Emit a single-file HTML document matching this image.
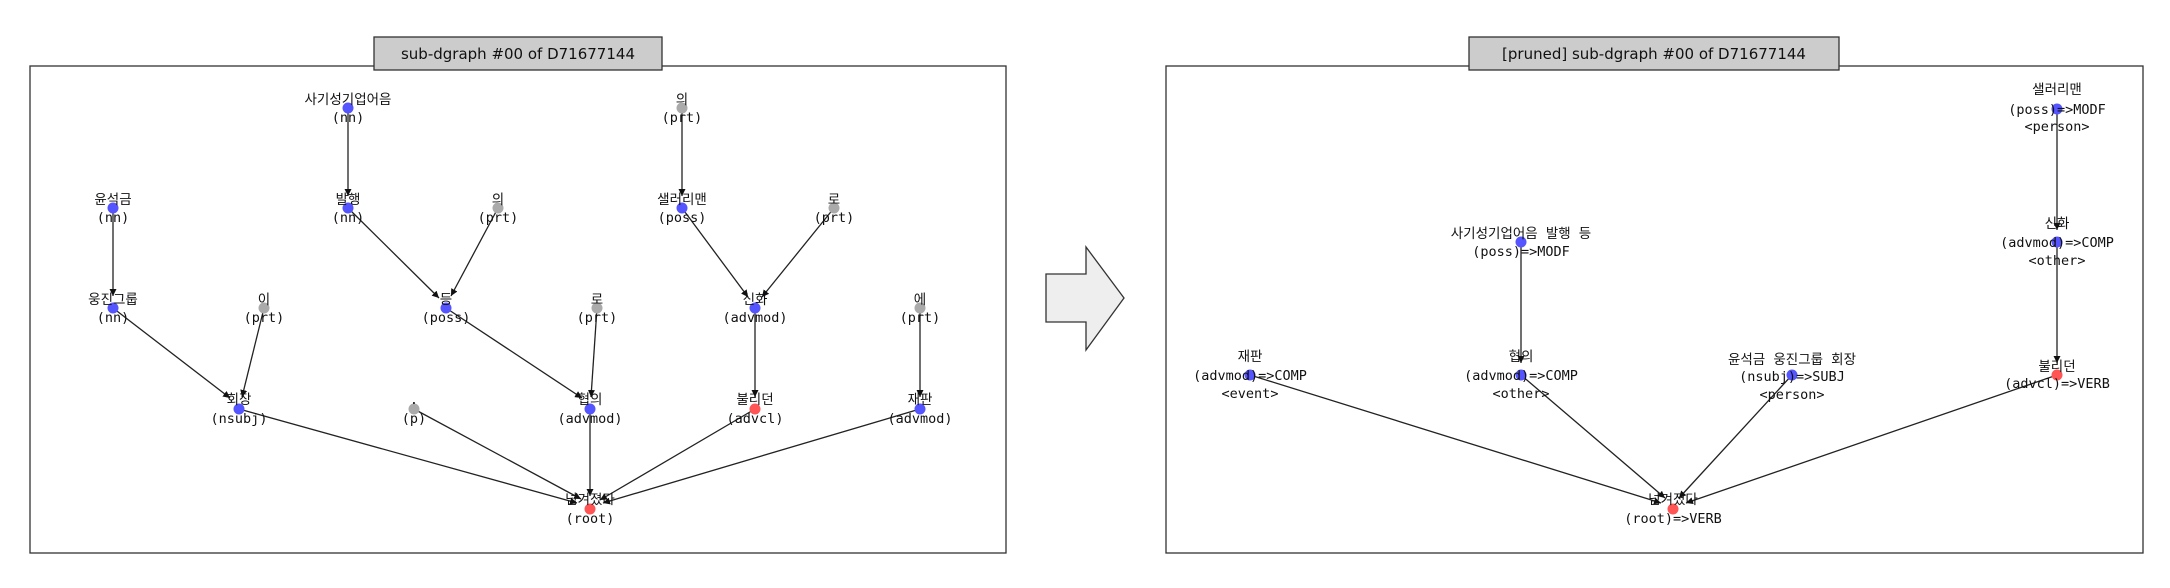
<!DOCTYPE html>
<html><head><meta charset="utf-8"><style>
html,body{margin:0;padding:0;background:#fff;}
svg{display:block;}
text{font-family:"DejaVu Sans Mono","Liberation Mono","Noto Sans CJK KR",monospace;font-size:13.5px;fill:#111;text-anchor:middle;dominant-baseline:central;}
.t{font-family:"DejaVu Sans","Liberation Sans",sans-serif;font-size:15px;}
line{stroke:#222;stroke-width:1.3;}
</style></head><body>
<svg width="2170" height="588" viewBox="0 0 2170 588" xmlns="http://www.w3.org/2000/svg">
<defs><marker id="a" viewBox="0 0 10 10" refX="10" refY="5" markerWidth="7" markerHeight="7" orient="auto" markerUnits="userSpaceOnUse"><path d="M0,0L10,5L0,10z" fill="#111"/></marker></defs>
<rect x="30" y="66" width="976" height="487" fill="none" stroke="#333" stroke-width="1.3"/>
<rect x="374" y="37" width="288" height="33" fill="#ccc" stroke="#333" stroke-width="1.3"/>
<text class="t" x="518" y="54">sub-dgraph #00 of D71677144</text>
<rect x="1166" y="66" width="977" height="487" fill="none" stroke="#333" stroke-width="1.3"/>
<rect x="1469" y="37" width="370" height="33" fill="#ccc" stroke="#333" stroke-width="1.3"/>
<text class="t" x="1654" y="54">[pruned] sub-dgraph #00 of D71677144</text>
<path d="M1046,274 H1086 V247 L1124,298 L1086,350 V322 H1046 Z" fill="#eee" stroke="#333" stroke-width="1.3"/>
<g id="edges" marker-end="url(#a)">
<line x1="348" y1="108" x2="348" y2="196"/>
<line x1="682" y1="108" x2="682" y2="196"/>
<line x1="113" y1="208" x2="113" y2="296"/>
<line x1="348" y1="208" x2="439" y2="298"/>
<line x1="498" y1="208" x2="451" y2="296"/>
<line x1="682" y1="208" x2="748" y2="297"/>
<line x1="834" y1="208" x2="762" y2="297"/>
<line x1="113" y1="308" x2="230" y2="398"/>
<line x1="264" y1="308" x2="242" y2="397"/>
<line x1="446" y1="308" x2="582" y2="398"/>
<line x1="597" y1="308" x2="591" y2="397"/>
<line x1="755" y1="308" x2="755" y2="397"/>
<line x1="920" y1="308" x2="920" y2="397"/>
<line x1="239" y1="409" x2="577" y2="503"/>
<line x1="414" y1="409" x2="581" y2="499"/>
<line x1="590" y1="409" x2="590" y2="496"/>
<line x1="755" y1="409" x2="600" y2="500"/>
<line x1="920" y1="409" x2="603" y2="503"/>
<line x1="2057" y1="109" x2="2057" y2="230"/>
<line x1="2057" y1="242" x2="2057" y2="363"/>
<line x1="1521" y1="242" x2="1521" y2="363"/>
<line x1="1250" y1="375" x2="1661" y2="503"/>
<line x1="1521" y1="375" x2="1665" y2="498"/>
<line x1="1792" y1="375" x2="1679" y2="498"/>
<line x1="2057" y1="375" x2="1686" y2="503"/>
</g>
<g id="dots">
<circle cx="348" cy="108" r="5.5" fill="#5555ff"/>
<circle cx="682" cy="108" r="5.5" fill="#aaa"/>
<circle cx="113" cy="208" r="5.5" fill="#5555ff"/>
<circle cx="348" cy="208" r="5.5" fill="#5555ff"/>
<circle cx="498" cy="208" r="5.5" fill="#aaa"/>
<circle cx="682" cy="208" r="5.5" fill="#5555ff"/>
<circle cx="834" cy="208" r="5.5" fill="#aaa"/>
<circle cx="113" cy="308" r="5.5" fill="#5555ff"/>
<circle cx="264" cy="308" r="5.5" fill="#aaa"/>
<circle cx="446" cy="308" r="5.5" fill="#5555ff"/>
<circle cx="597" cy="308" r="5.5" fill="#aaa"/>
<circle cx="755" cy="308" r="5.5" fill="#5555ff"/>
<circle cx="920" cy="308" r="5.5" fill="#aaa"/>
<circle cx="239" cy="409" r="5.5" fill="#5555ff"/>
<circle cx="414" cy="409" r="5.5" fill="#aaa"/>
<circle cx="590" cy="409" r="5.5" fill="#5555ff"/>
<circle cx="755" cy="409" r="5.5" fill="#ff5555"/>
<circle cx="920" cy="409" r="5.5" fill="#5555ff"/>
<circle cx="590" cy="509" r="5.5" fill="#ff5555"/>
<circle cx="2057" cy="109" r="5.5" fill="#5555ff"/>
<circle cx="2057" cy="242" r="5.5" fill="#5555ff"/>
<circle cx="1521" cy="242" r="5.5" fill="#5555ff"/>
<circle cx="1250" cy="375" r="5.5" fill="#5555ff"/>
<circle cx="1521" cy="375" r="5.5" fill="#5555ff"/>
<circle cx="1792" cy="375" r="5.5" fill="#5555ff"/>
<circle cx="2057" cy="375" r="5.5" fill="#ff5555"/>
<circle cx="1673" cy="509" r="5.5" fill="#ff5555"/>
</g>
<g id="labels">
<text x="348" y="100">사기성기업어음</text><text x="348" y="118">(nn)</text>
<text x="682" y="100">의</text><text x="682" y="118">(prt)</text>
<text x="113" y="200">윤석금</text><text x="113" y="218">(nn)</text>
<text x="348" y="200">발행</text><text x="348" y="218">(nn)</text>
<text x="498" y="200">의</text><text x="498" y="218">(prt)</text>
<text x="682" y="200">샐러리맨</text><text x="682" y="218">(poss)</text>
<text x="834" y="200">로</text><text x="834" y="218">(prt)</text>
<text x="113" y="300">웅진그룹</text><text x="113" y="318">(nn)</text>
<text x="264" y="300">이</text><text x="264" y="318">(prt)</text>
<text x="446" y="300">등</text><text x="446" y="318">(poss)</text>
<text x="597" y="300">로</text><text x="597" y="318">(prt)</text>
<text x="755" y="300">신화</text><text x="755" y="318">(advmod)</text>
<text x="920" y="300">에</text><text x="920" y="318">(prt)</text>
<text x="239" y="400">회장</text><text x="239" y="419">(nsubj)</text>
<text x="414" y="400">.</text><text x="414" y="419">(p)</text>
<text x="590" y="400">협의</text><text x="590" y="419">(advmod)</text>
<text x="755" y="400">불리던</text><text x="755" y="419">(advcl)</text>
<text x="920" y="400">재판</text><text x="920" y="419">(advmod)</text>
<text x="590" y="500">넘겨졌다</text><text x="590" y="519">(root)</text>
<text x="2057" y="90">샐러리맨</text><text x="2057" y="110">(poss)=&gt;MODF</text><text x="2057" y="127">&lt;person&gt;</text>
<text x="2057" y="224">신화</text><text x="2057" y="243">(advmod)=&gt;COMP</text><text x="2057" y="261">&lt;other&gt;</text>
<text x="1521" y="234">사기성기업어음 발행 등</text><text x="1521" y="252">(poss)=&gt;MODF</text>
<text x="1250" y="357">재판</text><text x="1250" y="376">(advmod)=&gt;COMP</text><text x="1250" y="394">&lt;event&gt;</text>
<text x="1521" y="357">협의</text><text x="1521" y="376">(advmod)=&gt;COMP</text><text x="1521" y="394">&lt;other&gt;</text>
<text x="1792" y="360">윤석금 웅진그룹 회장</text><text x="1792" y="377">(nsubj)=&gt;SUBJ</text><text x="1792" y="395">&lt;person&gt;</text>
<text x="2057" y="367">불리던</text><text x="2057" y="384">(advcl)=&gt;VERB</text>
<text x="1673" y="500">넘겨졌다</text><text x="1673" y="519">(root)=&gt;VERB</text>
</g>
</svg>
</body></html>
